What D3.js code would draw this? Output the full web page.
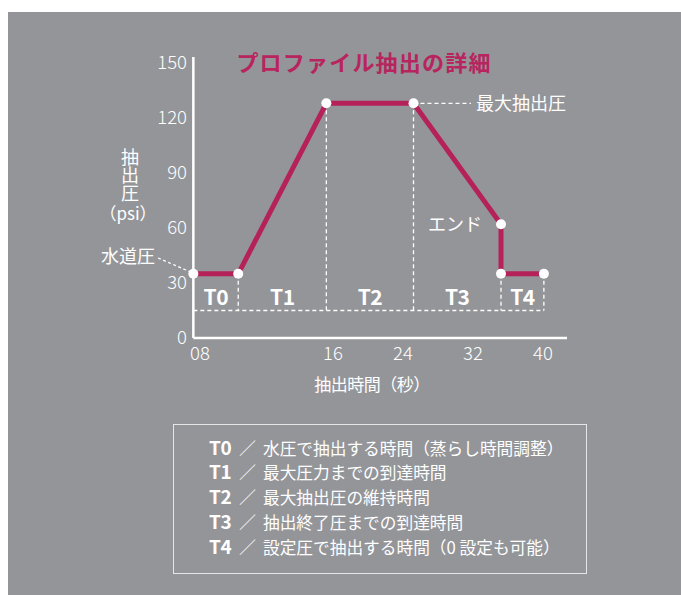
<!DOCTYPE html>
<html><head><meta charset="utf-8">
<script src="https://cdn.jsdelivr.net/npm/d3@7"></script>
<style>
html,body{margin:0;padding:0;background:#fff;}
svg{display:block;font-family:"Noto Sans CJK JP","Noto Sans",sans-serif;}
</style></head>
<body>
<svg id="chart" width="681" height="595"></svg>
<script>
// ---- data ----
const title = "プロファイル抽出の詳細";
const xTickLabels = ["08", "16", "24", "32", "40"];
const xTickValues = [8, 16, 24, 32, 40];
const yTickValues = [0, 30, 60, 90, 120, 150];
const times = [7.6, 10.3, 15.6, 25.2, 35.2, 35.2, 40.1];      // seconds
const pressures = [35, 35, 128, 128, 62, 35, 35];              // psi
const phases = ["T0", "T1", "T2", "T3", "T4"];
const phaseBounds = [7.6, 10.3, 15.6, 25.2, 35.2, 40.1];
const boundPressures = [35, 35, 128, 128, 35, 35];
const phaseBaseline = 15;
const legendKeys = ["T0", "T1", "T2", "T3", "T4"];
const legendTexts = [
  "水圧で抽出する時間（蒸らし時間調整）",
  "最大圧力までの到達時間",
  "最大抽出圧の維持時間",
  "抽出終了圧までの到達時間",
  "設定圧で抽出する時間（0 設定も可能）"
];

const svg = d3.select("#chart");
const red = "#b5225a", white = "#ffffff";

svg.append("rect").attr("x", 8).attr("y", 12).attr("width", 673).attr("height", 583).attr("fill", "#949599");

const x = d3.scaleLinear().domain([8, 16, 40]).range([200, 333, 543]);
const y = d3.scaleLinear().domain([0, 150]).range([338, 63]);
const x0 = x(times[0]);

// axes lines
svg.append("line").attr("x1", x0).attr("x2", x0).attr("y1", 57).attr("y2", y(0)).attr("stroke", white).attr("stroke-width", 2.5);
svg.append("line").attr("x1", x0).attr("x2", 567).attr("y1", y(0)).attr("y2", y(0)).attr("stroke", white).attr("stroke-width", 2.5);

// y ticks
svg.append("g").selectAll("text").data(yTickValues).join("text")
  .attr("x", 187).attr("y", d => y(d)).attr("dy", "0.35em").attr("text-anchor", "end")
  .attr("fill", white).attr("font-size", 18.5).attr("font-weight", 300).text(d => d);

// x ticks
svg.append("g").selectAll("text").data(xTickValues).join("text")
  .attr("x", d => x(d)).attr("y", 354).attr("dy", "0.35em").attr("text-anchor", "middle")
  .attr("fill", white).attr("font-size", 18.5).attr("font-weight", 300).text((d, i) => xTickLabels[i]);

// axis titles
svg.append("text").attr("x", 130).attr("y", 148)
  .attr("writing-mode", "vertical-rl").attr("fill", white).attr("font-size", 18).text("抽出圧");
svg.append("text").attr("x", 128).attr("y", 214).attr("dy", "0.35em").attr("text-anchor", "middle")
  .attr("fill", white).attr("font-size", 17).text("（psi）");
svg.append("text").attr("x", 372).attr("y", 385).attr("dy", "0.35em").attr("text-anchor", "middle")
  .attr("fill", white).attr("font-size", 17).text("抽出時間（秒）").attr("letter-spacing", -0.5);

// title
svg.append("text").attr("x", 364).attr("y", 63).attr("dy", "0.35em").attr("text-anchor", "middle")
  .attr("fill", "#b8245e").attr("font-size", 22).attr("font-weight", "bold").attr("letter-spacing", 1.2).text(title);

// dashed guides
const dash = "4,3";
svg.append("line").attr("x1", x(phaseBounds[0])).attr("x2", x(phaseBounds[5]))
  .attr("y1", y(phaseBaseline)).attr("y2", y(phaseBaseline))
  .attr("stroke", white).attr("stroke-width", 1.3).attr("stroke-dasharray", dash);
svg.append("g").selectAll("line").data(phaseBounds.slice(1)).join("line")
  .attr("x1", d => x(d)).attr("x2", d => x(d))
  .attr("y1", (d, i) => y(boundPressures[i + 1])).attr("y2", y(phaseBaseline))
  .attr("stroke", white).attr("stroke-width", 1.3).attr("stroke-dasharray", dash);
// leader for max pressure
svg.append("line").attr("x1", x(times[3])).attr("x2", 471).attr("y1", y(pressures[3])).attr("y2", y(pressures[3]))
  .attr("stroke", white).attr("stroke-width", 1.3).attr("stroke-dasharray", dash);
// leader for tap pressure
svg.append("line").attr("x1", 158).attr("x2", x(times[0]) - 3).attr("y1", 258).attr("y2", y(pressures[0]) - 2)
  .attr("stroke", white).attr("stroke-width", 1.3).attr("stroke-dasharray", "3,2.5");

// phase labels
svg.append("g").selectAll("text").data(phases).join("text")
  .attr("x", (d, i) => (x(phaseBounds[i]) + x(phaseBounds[i + 1])) / 2)
  .attr("y", y(22)).attr("dy", "0.35em").attr("text-anchor", "middle")
  .attr("fill", white).attr("font-size", 21).attr("font-weight", "bold").attr("letter-spacing", -0.5).text(d => d);

// line
const pts = times.map((t, i) => [t, pressures[i]]);
svg.append("path").datum(pts)
  .attr("d", d3.line().x(d => x(d[0])).y(d => y(d[1])))
  .attr("fill", "none").attr("stroke", red).attr("stroke-width", 5).attr("stroke-linejoin", "miter");
svg.append("g").selectAll("circle").data(pts).join("circle")
  .attr("cx", d => x(d[0])).attr("cy", d => y(d[1])).attr("r", 5).attr("fill", white);

// annotations
svg.append("text").attr("x", 476).attr("y", y(pressures[3])).attr("dy", "0.35em")
  .attr("fill", white).attr("font-size", 18).text("最大抽出圧");
svg.append("text").attr("x", 155).attr("y", 257).attr("dy", "0.35em").attr("text-anchor", "end")
  .attr("fill", white).attr("font-size", 18).text("水道圧");
svg.append("text").attr("x", 482).attr("y", 225).attr("dy", "0.35em").attr("text-anchor", "end")
  .attr("fill", white).attr("font-size", 18).text("エンド");

// legend box
svg.append("rect").attr("x", 173.5).attr("y", 424.5).attr("width", 413).attr("height", 149)
  .attr("fill", "none").attr("stroke", "#e6e6e6").attr("stroke-width", 1);
const lg = svg.append("g").selectAll("g").data(legendKeys).join("g")
  .attr("transform", (d, i) => `translate(0,${449 + i * 24.8})`);
const lt = lg.append("text").attr("x", 209).attr("dy", "0.35em").attr("fill", white);
lt.append("tspan").attr("font-size", 17).attr("font-weight", "bold").attr("letter-spacing", -0.5)
  .attr("style", "font-size:19px").text(d => d);
lt.append("tspan").attr("x", 239).attr("font-size", 17).attr("font-weight", 300).text("／");
lt.append("tspan").attr("x", 263).attr("font-size", 16.7).text((d, i) => legendTexts[i]);
</script>
</body></html>
